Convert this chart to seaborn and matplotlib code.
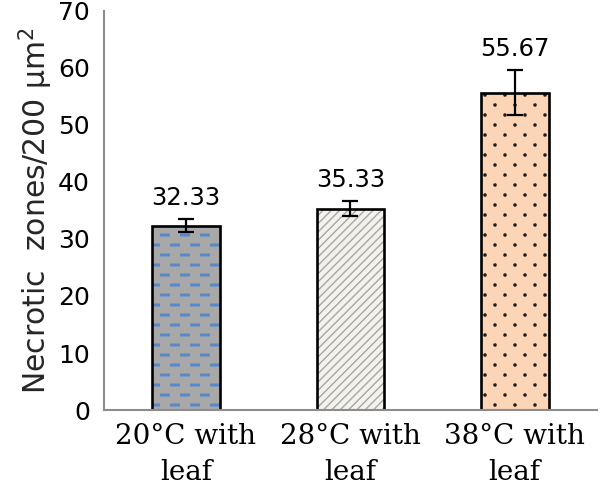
import numpy as np
import pandas as pd
import matplotlib
matplotlib.use("Agg")
import matplotlib.pyplot as plt
import seaborn as sns
from matplotlib import hatch as mhatch
from matplotlib.path import Path
from matplotlib.colors import to_rgba

# ---- data ----
categories = ["20°C with\nleaf", "28°C with\nleaf", "38°C with\nleaf"]
values = [32.33, 35.33, 55.67]
errors = [1.1, 1.25, 3.9]
value_labels = ["32.33", "35.33", "55.67"]
y_ticks = [0, 10, 20, 30, 40, 50, 60, 70]


# ---- custom hatch textures (styling only) ----
def _rect(cx, cy, hw, hh):
    return [(cx - hw, cy - hh), (cx + hw, cy - hh), (cx + hw, cy + hh),
            (cx - hw, cy + hh), (cx - hw, cy - hh)]


def _poly(cx, cy, r, n=8):
    ang = np.linspace(0, 2 * np.pi, n, endpoint=False)
    pts = [(cx + r * np.cos(a), cy + r * np.sin(a)) for a in ang]
    return pts + [pts[0]]


class DashHatch(mhatch.HatchPatternBase):
    """staggered short dashes, activated by '-'"""
    def __init__(self, hatch, density):
        self.active = hatch.count('-') > 0
        self.nrows, self.ncols = 10, 5
        self.num_vertices = self.nrows * self.ncols * 5 if self.active else 0

    def set_vertices_and_codes(self, vertices, codes):
        i = 0
        for r in range(self.nrows):
            cy = (r + 0.5) / self.nrows
            off = 0.0 if r % 2 == 0 else 0.1
            for c in range(self.ncols):
                cx = (c / self.ncols + off + 0.05) % 1.0
                pts = _rect(cx, cy, 0.042, 0.008)
                for k, p in enumerate(pts):
                    vertices[i] = p
                    codes[i] = Path.MOVETO if k == 0 else (Path.CLOSEPOLY if k == 4 else Path.LINETO)
                    i += 1


class DotHatch(mhatch.HatchPatternBase):
    """staggered small dots, activated by '.'"""
    def __init__(self, hatch, density):
        self.active = hatch.count('.') > 0
        self.nrows, self.ncols, self.nv = 10, 5, 9
        self.num_vertices = self.nrows * self.ncols * self.nv if self.active else 0

    def set_vertices_and_codes(self, vertices, codes):
        i = 0
        for r in range(self.nrows):
            cy = (r + 0.5) / self.nrows
            off = 0.0 if r % 2 == 0 else 0.1
            for c in range(self.ncols):
                cx = (c / self.ncols + off + 0.05) % 1.0
                pts = _poly(cx, cy, 0.011)
                for k, p in enumerate(pts):
                    vertices[i] = p
                    codes[i] = Path.MOVETO if k == 0 else (Path.CLOSEPOLY if k == self.nv - 1 else Path.LINETO)
                    i += 1


_new = []
for c in mhatch._hatch_types:
    if c is mhatch.HorizontalHatch:
        _new.append(DashHatch)
    elif c is mhatch.SmallFilledCircles:
        _new.append(DotHatch)
    else:
        _new.append(c)
mhatch._hatch_types = _new

sns.set_theme(style="white")
plt.rcParams['font.family'] = ['DejaVu Sans']
plt.rcParams['hatch.linewidth'] = 1.0

fig = plt.figure(figsize=(6.0, 4.97), dpi=100)
ax = fig.add_axes([0.173, 0.175, 0.822, 0.803])

df = pd.DataFrame({"cat": categories, "val": values})
sns.barplot(data=df, x="cat", y="val", ax=ax, width=0.41, errorbar=None,
            color="white", edgecolor="black", linewidth=1.9)

fills = ["#a8a8a8", "#f3f2ec", "#fcd5b6"]
hatches = ["-", "////", "."]
hcolors = ["#5588cc", "#a6a6a6", "#1a1a1a"]
for p, fc, h, hc in zip(ax.patches, fills, hatches, hcolors):
    p.set_facecolor(fc)
    p.set_hatch(h)
    p.set_zorder(2)
    try:
        p.set_hatchcolor(hc)
    except AttributeError:
        p._hatch_color = to_rgba(hc)

x = np.arange(len(values))
ax.errorbar(x, values, yerr=errors, fmt="none", ecolor="black",
            elinewidth=1.6, capsize=6, capthick=1.6, zorder=3)

for xi, v, e, lab in zip(x, values, errors, value_labels):
    ax.annotate(lab, (xi, v + e), xytext=(0, 10.5), textcoords="offset points",
                ha="center", va="baseline", fontsize=17.5, color="black")

ax.set_ylim(0, 70)
ax.set_xlim(-0.5, 2.5)
ax.set_yticks(y_ticks)
ax.set_yticklabels([str(t) for t in y_ticks], fontsize=18)
ax.set_xticks(x)
ax.set_xticklabels(categories, fontsize=20, family="DejaVu Serif", linespacing=1.45)
ax.set_xticks([-0.5, 0.5, 1.5, 2.5], minor=True)
ax.tick_params(axis="x", which="major", length=0, pad=9, colors="black")
ax.tick_params(axis="x", which="minor", length=7, width=1.2, color="#8c8c8c", direction="out")
ax.tick_params(axis="y", length=6, width=1.2, color="#8c8c8c", direction="out", pad=4)
ax.tick_params(axis="both", labelcolor="black")

ax.set_xlabel("")
ax.set_ylabel("Necrotic  zones/200 μm$^2$", fontsize=21.5, labelpad=2)

for s in ["top", "right"]:
    ax.spines[s].set_visible(False)
for s in ["left", "bottom"]:
    ax.spines[s].set_color("#8c8c8c")
    ax.spines[s].set_linewidth(1.5)

fig.savefig("out.png", dpi=100)
